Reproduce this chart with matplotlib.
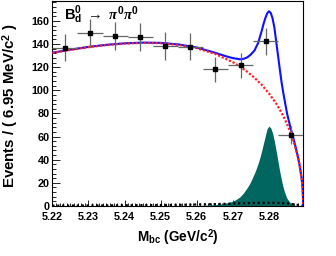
import numpy as np
import matplotlib
matplotlib.use("Agg")
import matplotlib.pyplot as plt
from matplotlib.ticker import MultipleLocator

plt.rcParams['font.family'] = ['Liberation Sans', 'DejaVu Sans']
plt.rcParams['font.weight'] = 'bold'
plt.rcParams['mathtext.fontset'] = 'custom'
plt.rcParams['mathtext.rm'] = 'Liberation Sans'
plt.rcParams['mathtext.bf'] = 'Liberation Sans:bold'
plt.rcParams['mathtext.it'] = 'Liberation Serif:italic'

# data points (10 bins of 6.95 MeV)
bin_centers = [5.22348, 5.23043, 5.23738, 5.24433, 5.25128,
               5.25823, 5.26518, 5.27213, 5.27908, 5.28603]
bin_half = [0.003475] * 10
counts = [136.7, 149.4, 146.5, 145.7, 138.2, 137.6, 118.3, 121.5, 142.2, 61.3]
count_err = [11.7, 12.2, 12.1, 12.1, 11.8, 11.7, 10.9, 11.0, 11.9, 7.8]

# background (argus) curve
bkg_m = [5.220, 5.225, 5.230, 5.235, 5.240, 5.245, 5.250, 5.255, 5.260, 5.265,
         5.270, 5.272, 5.274, 5.276, 5.278, 5.280, 5.282, 5.283, 5.284, 5.285,
         5.286, 5.287, 5.288, 5.2885, 5.289, 5.2893, 5.2895]
bkg_y = [132.3, 134.9, 137.3, 139.1, 140.4, 141.0, 140.7, 139.2, 136.4, 131.6,
         124.3, 120.5, 116.0, 110.8, 104.7, 97.3, 88.5, 83.3, 77.5, 70.9,
         63.3, 54.1, 42.4, 34.6, 24.8, 15.7, 0.0]

# total fit curve
tot_m = [5.220, 5.225, 5.230, 5.235, 5.240, 5.245, 5.250, 5.255, 5.260, 5.265,
         5.268, 5.270, 5.272, 5.273, 5.274, 5.275, 5.276, 5.277, 5.278, 5.2785,
         5.279, 5.2795, 5.280, 5.2805, 5.281, 5.2815, 5.282, 5.2825, 5.283,
         5.2835, 5.284, 5.285, 5.286, 5.287, 5.288, 5.2885, 5.289, 5.2893, 5.2895]
tot_y = [132.5, 135.1, 137.5, 139.3, 140.6, 141.2, 141.0, 139.6, 137.0, 132.5,
         129.5, 127.8, 126.8, 127.2, 128.5, 131.0, 134.5, 141.0, 151.5, 157.5,
         162.5, 166.5, 168.3, 166.8, 162.0, 154.0, 142.0, 130.0, 118.0,
         106.5, 97.0, 80.0, 67.0, 55.6, 42.7, 34.8, 24.9, 15.7, 0.0]

# signal component
sig_m = [5.255, 5.260, 5.265, 5.268, 5.270, 5.271, 5.272, 5.273, 5.274, 5.2745,
         5.275, 5.2755, 5.276, 5.2765, 5.277, 5.2775, 5.278, 5.2785, 5.279,
         5.2795, 5.280, 5.2805, 5.281, 5.2815, 5.282, 5.2825, 5.283, 5.2835,
         5.284, 5.2845, 5.285, 5.286, 5.287, 5.288, 5.2895]
sig_y = [0.1, 0.4, 1.1, 2.3, 4.2, 5.8, 8.0, 11.5, 16.0, 18.5,
         21.5, 25.0, 28.5, 32.5, 37.0, 42.0, 48.0, 54.5, 61.0,
         67.0, 69.0, 67.4, 62.8, 55.8, 47.3, 38.2, 29.5, 21.7,
         15.2, 10.2, 6.5, 2.3, 0.7, 0.2, 0.0]

# small peaking background (black dotted)
rare_m = [5.220, 5.240, 5.255, 5.265, 5.272, 5.278, 5.282, 5.285, 5.288, 5.2895]
rare_y = [0.3, 0.6, 1.0, 1.6, 2.3, 2.8, 2.8, 2.2, 1.0, 0.0]

fig = plt.figure(figsize=(3.36, 2.56), dpi=100)
ax = fig.add_axes([0.1557, 0.1953, 0.747, 0.8])

ax.fill_between(sig_m, sig_y, 0, color='#00665f', lw=0, zorder=2)
ax.plot(rare_m, rare_y, color='black', ls=(0, (1, 1.2)), lw=1.6, zorder=3)
ax.plot(tot_m, tot_y, color='#1010ff', lw=1.5, zorder=4)
ax.plot(bkg_m, bkg_y, color='#ff2020', ls=(0, (1, 0.8)), lw=1.6, zorder=5)
ax.errorbar(bin_centers, counts, xerr=bin_half, yerr=count_err, fmt='s',
            color='black', ms=2.4, ecolor='0.4', elinewidth=0.9, capsize=0, zorder=6)

ax.set_xlim(5.22, 5.2895)
ax.set_ylim(0, 177)
ax.xaxis.set_minor_locator(MultipleLocator(0.001))
ax.yaxis.set_major_locator(MultipleLocator(20))
ax.yaxis.set_minor_locator(MultipleLocator(4))
ax.set_xticks([5.22, 5.23, 5.24, 5.25, 5.26, 5.27, 5.28])
ax.set_xticklabels(['5.22', '5.23', '5.24', '5.25', '5.26', '5.27', '5.28'])
ax.tick_params(axis='both', which='both', direction='in', labelsize=7.8, width=0.6)
ax.tick_params(axis='x', which='major', length=4, pad=4)
ax.tick_params(axis='x', which='minor', length=2)
ax.tick_params(axis='y', which='major', length=6, pad=2)
ax.tick_params(axis='y', which='minor', length=3)
for lab in ax.get_xticklabels() + ax.get_yticklabels():
    lab.set_fontweight('bold')
for sp in ax.spines.values():
    sp.set_linewidth(0.8)

ax.set_xlabel(r'M$_{\mathbf{bc}}$ (GeV/c$^{\mathbf{2}}$)', fontsize=9.8, fontweight='bold')
ax.xaxis.set_label_coords(0.5, -0.105)
ax.set_ylabel(r'Events / ( 6.95 MeV/c$^{\mathbf{2}}$ )', fontsize=10.8, fontweight='bold')
ax.yaxis.set_label_coords(-0.125, 0.49)

ax.text(0.047, 0.912, r'$\mathbf{B}^{\mathbf{0}}_{\mathbf{d}}$ $\rightarrow$ $\pi^0\pi^0$',
        transform=ax.transAxes, fontsize=10.5, fontweight='bold', va='baseline')

fig.savefig('out.png', dpi=100)
